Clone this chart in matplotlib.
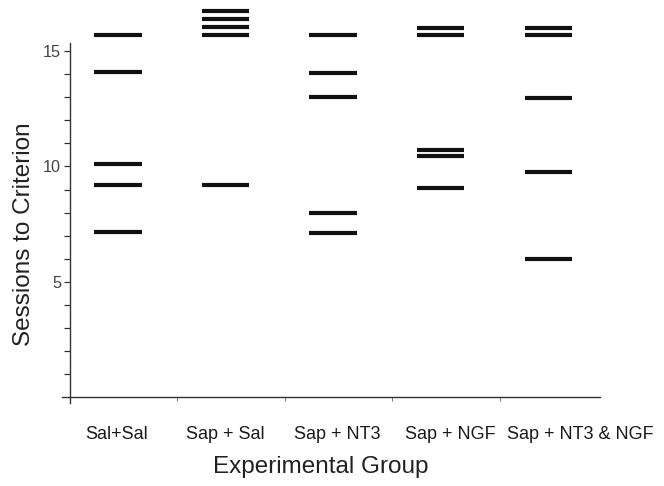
import matplotlib
matplotlib.use("Agg")
import matplotlib.pyplot as plt

plt.rcParams['font.family'] = ['Liberation Sans', 'DejaVu Sans']

groups = ["Sal+Sal", "Sap + Sal", "Sap + NT3", "Sap + NGF", "Sap + NT3 & NGF"]

# sessions to criterion, one value per animal
sal_sal = [15.7, 14.1, 10.1, 9.2, 7.15]
sap_sal = [16.75, 16.4, 16.05, 15.7, 9.2]
sap_nt3 = [15.7, 14.05, 13.0, 8.0, 7.1]
sap_ngf = [16.0, 15.7, 10.7, 10.45, 9.05]
sap_nt3_ngf = [16.0, 15.7, 12.95, 9.75, 6.0]

all_groups = [sal_sal, sap_sal, sap_nt3, sap_ngf, sap_nt3_ngf]

fig = plt.figure(figsize=(6.64, 4.86), dpi=100)
ax = fig.add_axes([0.0885, 0.1642, 0.9075, 0.8252])

for i, vals in enumerate(all_groups):
    c = i + 0.45
    ax.hlines(vals, c - 0.22, c + 0.22, colors='#111111', linewidth=3.0)

ax.set_xlim(-0.1, 5.5)
ax.set_ylim(-0.4, 17)

for s in ['top', 'right']:
    ax.spines[s].set_visible(False)
ax.spines['left'].set_position(('data', 0))
ax.spines['bottom'].set_position(('data', 0))
ax.spines['left'].set_bounds(-0.25, 15.36)
ax.spines['bottom'].set_bounds(-0.07, 4.93)
for s in ['left', 'bottom']:
    ax.spines[s].set_color('#333333')
    ax.spines[s].set_linewidth(1.0)

ax.set_yticks([5, 10, 15])
ax.set_yticks([1, 2, 3, 4, 6, 7, 8, 9, 11, 12, 13, 14], minor=True)
ax.tick_params(axis='y', which='both', direction='out', length=4, width=0.9,
               color='#333333', labelsize=11.7, labelcolor='#444444', pad=2)

ax.set_xticks([1, 2, 3, 4])
ax.set_xticklabels([])
ax.tick_params(axis='x', direction='out', length=3, width=0.7, color='#777777')

label_x = [0.44, 1.45, 2.49, 3.54, 4.75]
for x, g in zip(label_x, groups):
    ax.text(x, -0.0718, g, transform=ax.get_xaxis_transform(), ha='center',
            va='center', fontsize=13, color='#1a1a1a')

ax.text(0.435, -0.1516, "Experimental Group", transform=ax.transAxes,
        ha='center', va='center', fontsize=17.5, color='#222222')
fig.text(24 / 664, 1 - 234.5 / 486, "Sessions to Criterion", rotation=90,
         ha='center', va='center', fontsize=17.5, color='#222222')

fig.savefig("out.png", dpi=100)
